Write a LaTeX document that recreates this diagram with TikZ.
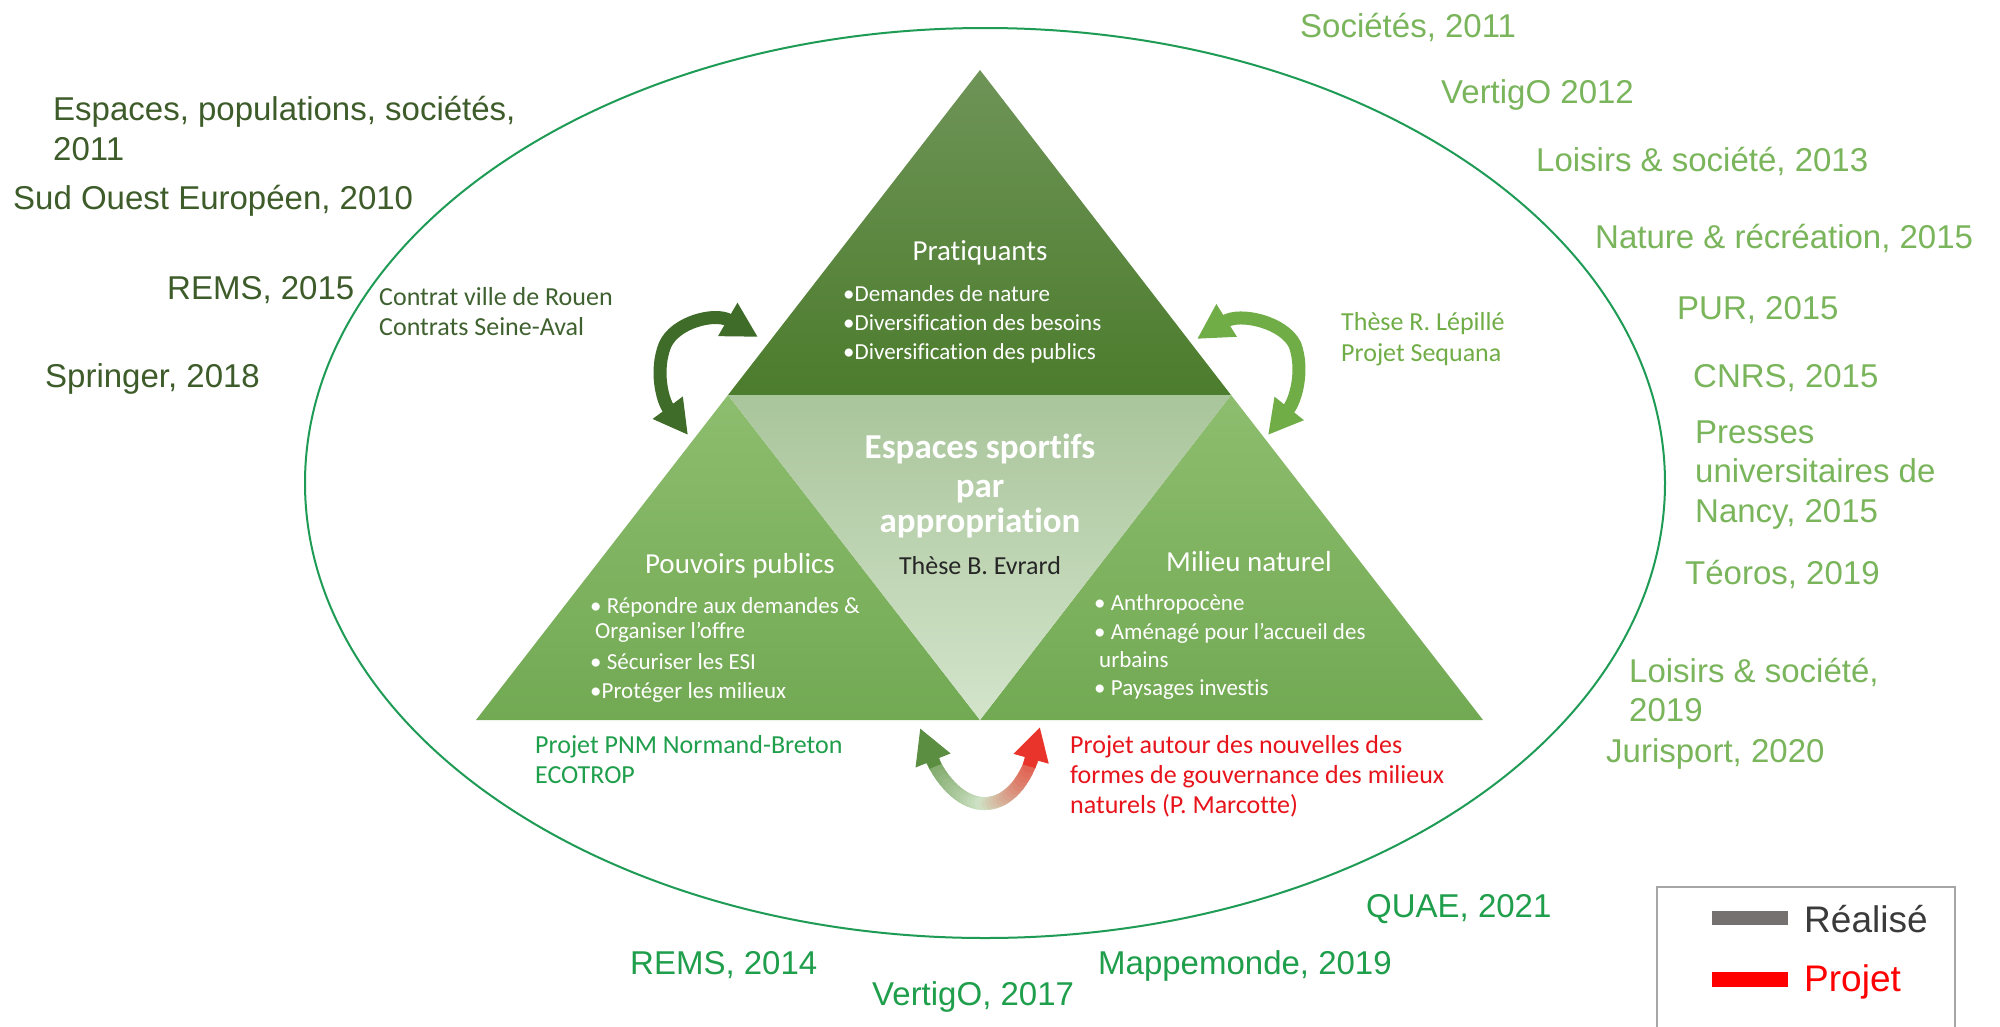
\documentclass[tikz,border=0pt]{standalone}
\usepackage{fontspec}
\usetikzlibrary{arrows.meta}
\newfontfamily\calibri[Ligatures=NoCommon]{Carlito}
\newfontfamily\arialf{Liberation Sans}
\definecolor{olivedk}{HTML}{3D5C2A}
\definecolor{olivein}{HTML}{3F6130}
\definecolor{lightgr}{HTML}{7AB55C}
\definecolor{emer}{HTML}{1F9E4B}
\definecolor{redt}{HTML}{E8141C}
\definecolor{ellc}{HTML}{1E9B55}
\definecolor{arrdk}{HTML}{406C2A}
\definecolor{arrlt}{HTML}{70AD47}
\definecolor{ugL}{HTML}{5B8E41}
\definecolor{ugP}{HTML}{CFE3C6}
\definecolor{ugR}{HTML}{E8342A}
\definecolor{topA}{HTML}{6E9457}
\definecolor{topB}{HTML}{4C7C2D}
\definecolor{botA}{HTML}{8DBD6E}
\definecolor{botB}{HTML}{72A953}
\definecolor{ctrA}{HTML}{A9C59B}
\definecolor{ctrB}{HTML}{D3E4CB}
\definecolor{leggray}{HTML}{757171}
\definecolor{legtxt}{HTML}{3A3A3A}
\begin{document}
\begin{tikzpicture}[x=1pt,y=-1pt,
  ext/.style={font=\arialf\fontsize{33}{38}\selectfont, anchor=base west, inner sep=0pt},
  inn/.style={font=\calibri\fontsize{26}{30}\selectfont, anchor=base west, inner sep=0pt},
  bul/.style={font=\calibri\fontsize{23}{27}\selectfont, anchor=base west, inner sep=0pt, text=white},
  ttl/.style={font=\calibri\fontsize{29}{34}\selectfont, anchor=base, inner sep=0pt, text=white},
  ctr/.style={font=\calibri\bfseries\fontsize{35}{40}\selectfont, anchor=base, inner sep=0pt, text=white},
  legt/.style={font=\arialf\fontsize{37}{42}\selectfont, anchor=base west, inner sep=0pt},
  bigarrow/.style={line width=13pt},
]
\useasboundingbox (0,0) rectangle (2000,1026);
\fill[white] (0,0) rectangle (2000,1026);

% ellipse
\draw[ellc, line width=2pt] (985,483) ellipse [x radius=680, y radius=455];

% triangles
\coordinate (A) at (980,70);
\coordinate (L) at (476,720);
\coordinate (R) at (1483,720);
\coordinate (ML) at (728,395);
\coordinate (MR) at (1231,395);
\coordinate (MB) at (980,720);
\shade[top color=topA, bottom color=topB] (A) -- (MR) -- (ML) -- cycle;
\shade[top color=botA, bottom color=botB] (ML) -- (MB) -- (L) -- cycle;
\shade[top color=botA, bottom color=botB] (MR) -- (R) -- (MB) -- cycle;
\shade[top color=ctrA, bottom color=ctrB] (ML) -- (MR) -- (MB) -- cycle;

% triangle texts
\node[ttl] (pratT) at (980,260) {Pratiquants};
\node[bul] (pr1) at (843,301) {•Demandes de nature};
\node[bul] (pr2) at (843,330) {•Diversification des besoins};
\node[bul] (pr3) at (843,359) {•Diversification des publics};

\node[ttl] (pouvT) at (740,573) {Pouvoirs publics};
\node[bul] (po1) at (590,613) {• Répondre aux demandes \&};
\node[bul] (po1b) at (595,638) {Organiser l’offre};
\node[bul] (po2) at (590,669) {• Sécuriser les ESI};
\node[bul] (po3) at (590,698) {•Protéger les milieux};

\node[ttl] (milT) at (1249,571) {Milieu naturel};
\node[bul] (mi1) at (1094,610) {• Anthropocène};
\node[bul] (mi2) at (1094,639) {• Aménagé pour l’accueil des};
\node[bul] (mi2b) at (1099,667) {urbains};
\node[bul] (mi3) at (1094,695) {• Paysages investis};

\node[ctr] (c1) at (980,458) {Espaces sportifs};
\node[ctr] (c2) at (980,497) {par};
\node[ctr] (c3) at (980,532) {appropriation};
\node[font=\calibri\fontsize{26}{30}\selectfont, anchor=base, inner sep=0pt, text={black!85}] (these) at (980,574) {Thèse B. Evrard};

% curved arrows
\coordinate (la1) at (688,435);
\coordinate (la2) at (758,337);
\draw[arrdk, bigarrow, {Triangle[length=34pt,width=35pt]}-{Triangle[length=35pt,width=36pt]}]
  (la1) .. controls (662,400) and (655,370) .. (665,345) .. controls (675,322) and (715,312) .. (la2);
\coordinate (ra1) at (1268,435);
\coordinate (ra2) at (1197,339);
\draw[arrlt, bigarrow, {Triangle[length=34pt,width=35pt]}-{Triangle[length=35pt,width=36pt]}]
  (ra1) .. controls (1296,400) and (1304,370) .. (1295,345) .. controls (1284,322) and (1240,312) .. (ra2);

% bottom gradient arrow
\foreach \i in {0,...,40}{
  \pgfmathsetmacro\t{\i/40}
  \pgfmathsetmacro\bx{(1-\t)^3*920 + 3*(1-\t)^2*\t*948 + 3*(1-\t)*\t^2*1024 + \t^3*1040}
  \pgfmathsetmacro\by{(1-\t)^3*728 + 3*(1-\t)^2*\t*828 + 3*(1-\t)*\t^2*830 + \t^3*727}
  \coordinate (u\i) at (\bx,\by);
}
\foreach \i [count=\j from 5] in {4,...,35}{
  \pgfmathsetmacro\t{(\i+0.5)/40}
  \ifdim\t pt<0.5pt
    \pgfmathsetmacro\p{200*\t}
    \colorlet{segc}{ugP!\p!ugL}
  \else
    \pgfmathsetmacro\p{200*(1-\t)}
    \colorlet{segc}{ugP!\p!ugR}
  \fi
  \draw[segc, line width=13pt, line cap=round] (u\i) -- (u\j);
}
\draw[ugL, line width=13pt, -{Triangle[length=35pt,width=35pt]}] (u6) -- (u0);
\draw[ugR, line width=13pt, -{Triangle[length=33pt,width=34pt]}] (u34) -- (u40);

% inner side labels
\node[inn, text=olivein] (cv1) at (379,305) {Contrat ville de Rouen};
\node[inn, text=olivein] (cv2) at (379,335) {Contrats Seine-Aval};
\node[inn, text=arrlt] (tr1) at (1341,330) {Thèse R. Lépillé};
\node[inn, text=arrlt] (tr2) at (1341,361) {Projet Sequana};
\node[inn, text=emer] (pn1) at (535,753) {Projet PNM Normand-Breton};
\node[inn, text=emer] (pn2) at (535,783) {ECOTROP};
\node[inn, text=redt] (pj1) at (1070,753) {Projet autour des nouvelles des};
\node[inn, text=redt] (pj2) at (1070,783) {formes de gouvernance des milieux};
\node[inn, text=redt] (pj3) at (1070,813) {naturels (P. Marcotte)};

% outer labels left
\node[ext, text=olivedk] (l1) at (53,120) {Espaces, populations, sociétés,};
\node[ext, text=olivedk] (l1b) at (53,160) {2011};
\node[ext, text=olivedk] (l2) at (13,209) {Sud Ouest Européen, 2010};
\node[ext, text=olivedk] (l3) at (167,299) {REMS, 2015};
\node[ext, text=olivedk] (l4) at (45,387) {Springer, 2018};

% outer labels right
\node[ext, text=lightgr] (r1) at (1300,37) {Sociétés, 2011};
\node[ext, text=lightgr] (r2) at (1441,103) {VertigO 2012};
\node[ext, text=lightgr] (r3) at (1536,171) {Loisirs \& société, 2013};
\node[ext, text=lightgr] (r4) at (1595,248) {Nature \& récréation, 2015};
\node[ext, text=lightgr] (r5) at (1677,319) {PUR, 2015};
\node[ext, text=lightgr] (r6) at (1693,387) {CNRS, 2015};
\node[ext, text=lightgr] (r7) at (1695,443) {Presses};
\node[ext, text=lightgr] (r7b) at (1695,482) {universitaires de};
\node[ext, text=lightgr] (r7c) at (1695,522) {Nancy, 2015};
\node[ext, text=lightgr] (r8) at (1685,584) {Téoros, 2019};
\node[ext, text=lightgr] (r9) at (1629,682) {Loisirs \& société,};
\node[ext, text=lightgr] (r9b) at (1629,721) {2019};
\node[ext, text=lightgr] (r10) at (1606,762) {Jurisport, 2020};

% outer labels bottom
\node[ext, text=emer] (b1) at (1366,917) {QUAE, 2021};
\node[ext, text=emer] (b2) at (630,974) {REMS, 2014};
\node[ext, text=emer] (b3) at (1098,974) {Mappemonde, 2019};
\node[ext, text=emer] (b4) at (872,1005) {VertigO, 2017};

% legend
\draw[black!35, line width=2pt] (1657,1030) -- (1657,887) -- (1955,887) -- (1955,1030);
\fill[leggray] (1712,911) rectangle (1788,925);
\node[legt, text=legtxt] (lg1) at (1804,932) {Réalisé};
\fill[red] (1712,972) rectangle (1788,987);
\node[legt, text=red] (lg2) at (1804,991) {Projet};
\end{tikzpicture}
\end{document}
